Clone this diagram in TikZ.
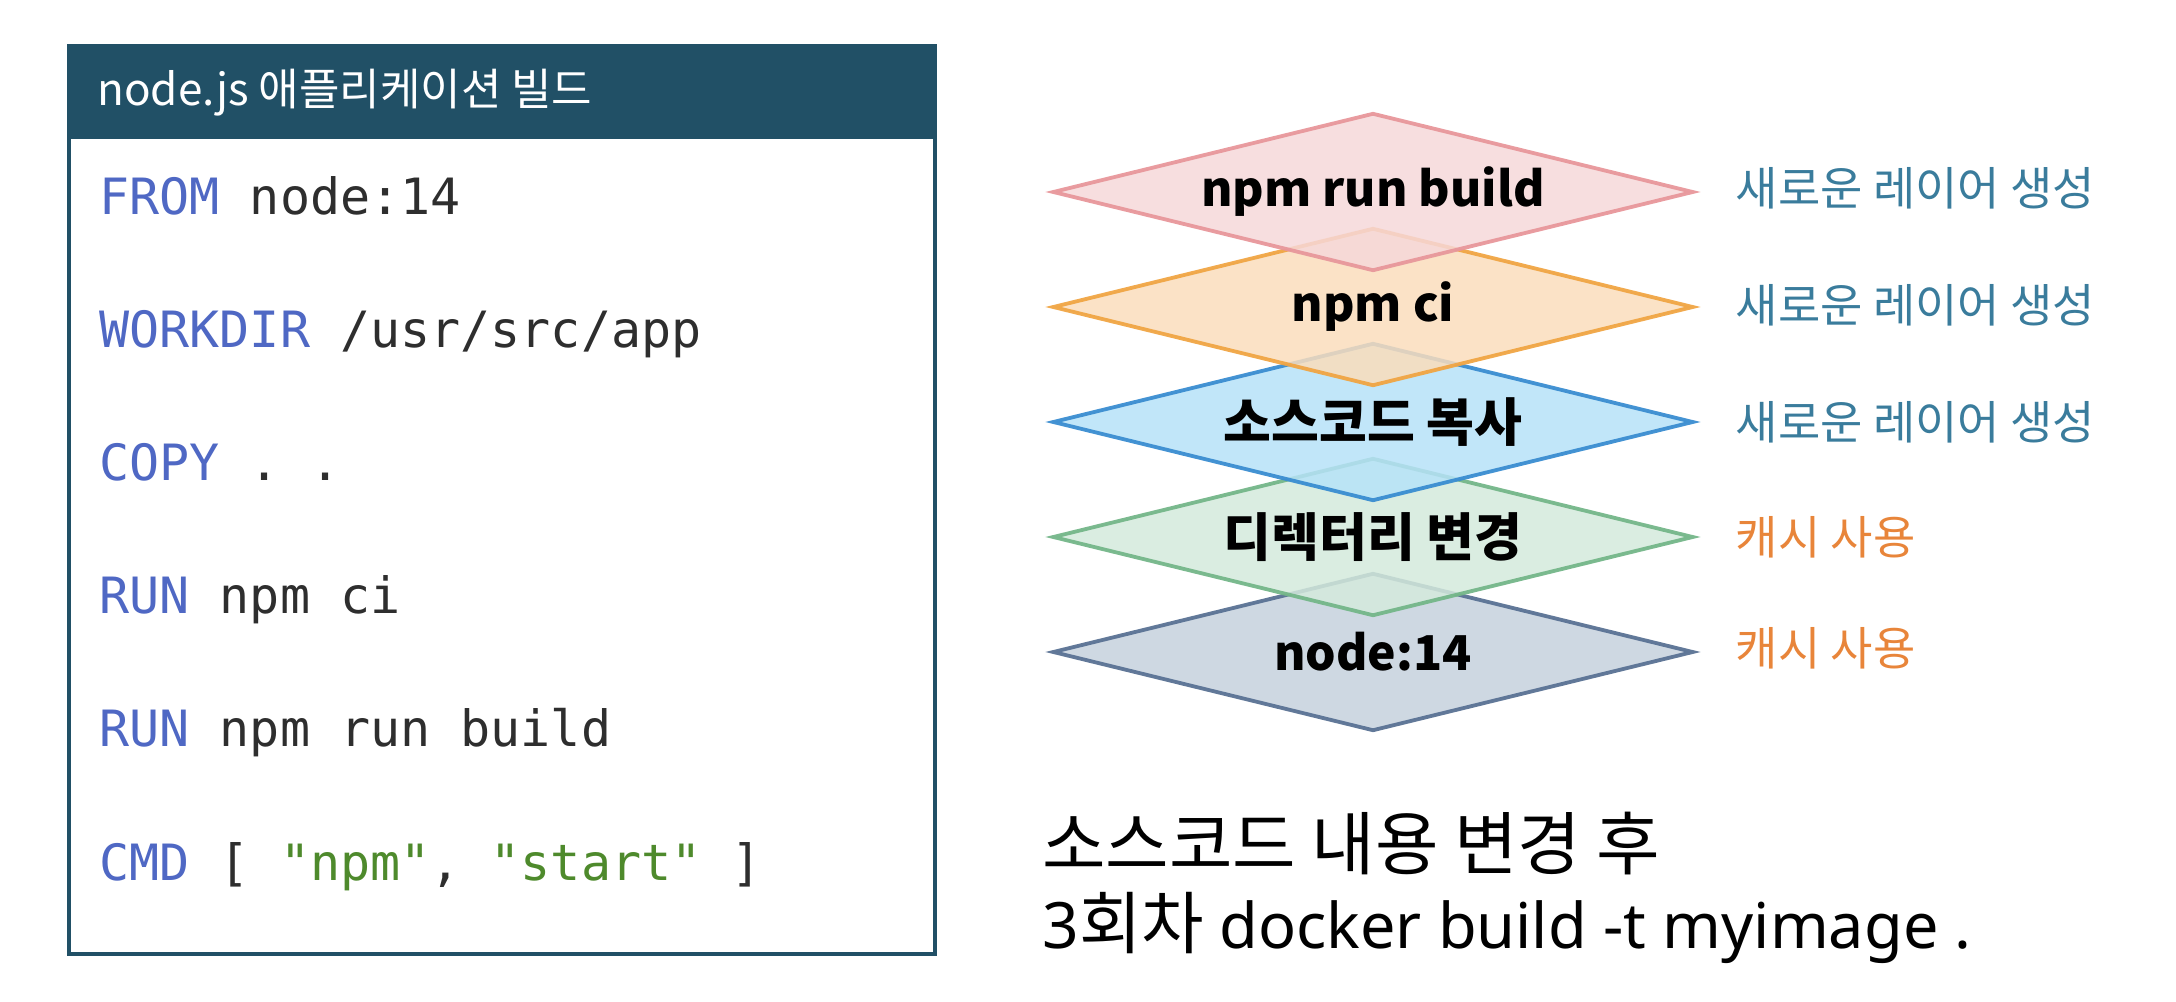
\documentclass[tikz,border=0pt]{standalone}
\usepackage{fontspec}
\setmainfont{Noto Sans CJK KR}
\newfontfamily\codefont{DejaVu Sans Mono}
\newfontfamily\latfont{Noto Sans}
\usetikzlibrary{shapes.geometric}
\definecolor{hdr}{HTML}{215066}
\definecolor{kw}{HTML}{4F68C4}
\definecolor{codetxt}{HTML}{2E2E2E}
\definecolor{strg}{HTML}{4E8A2C}
\definecolor{newc}{HTML}{3A7C9C}
\definecolor{cachec}{HTML}{E8853A}
\definecolor{pinkf}{HTML}{F6D8D9}\definecolor{pinkd}{HTML}{E8979B}
\definecolor{orf}{HTML}{FADDBC}\definecolor{ord}{HTML}{F0A544}
\definecolor{bluef}{HTML}{B6E2F8}\definecolor{blued}{HTML}{3A8DD1}
\definecolor{greenf}{HTML}{D4EADC}\definecolor{greend}{HTML}{74B689}
\definecolor{grayf}{HTML}{C5D1DD}\definecolor{grayd}{HTML}{5A7294}
\tikzset{
  layer/.style={diamond, minimum width=320.5pt, minimum height=79pt, inner sep=0pt,
    line width=1.9pt, fill opacity=0.85, draw opacity=0.95},
  layertxt/.style={inner sep=0pt, font=\fontsize{24}{28}\selectfont\bfseries, text=black},
  layerkr/.style={inner sep=0pt, font=\fontsize{26}{30}\selectfont\bfseries, text=black},
  codeline/.style={anchor=base west, inner sep=0pt, font=\codefont\fontsize{25}{30}\selectfont, text=codetxt},
  sidelabel/.style={anchor=west, inner sep=0pt, font=\fontsize{23}{27}\selectfont},
  bottomtxt/.style={anchor=base west, inner sep=0pt, text=black}
}
\begin{document}
\begin{tikzpicture}[x=0.5pt,y=-0.5pt]
\useasboundingbox (0,0) rectangle (2176,1002);
% code box
\node[draw=hdr, line width=2pt, fill=white, anchor=north west, minimum width=433pt, minimum height=454pt, inner sep=0pt] (codebox) at (67,44) {};
\node[fill=hdr, draw=hdr, line width=2pt, anchor=north west, minimum width=433pt, minimum height=45.5pt, inner sep=0pt] (header) at (67,44) {};
\node[anchor=base west, inner sep=0pt, text=white, font=\fontsize{22}{26}\selectfont] (htitle) at (97,105) {node.js 애플리케이션 빌드};
\node[codeline] (l1) at (99,214) {\textcolor{kw}{FROM} node:14};
\node[codeline] (l2) at (99,347.2) {\textcolor{kw}{WORKDIR} /usr/src/app};
\node[codeline] (l3) at (99,480.4) {\textcolor{kw}{COPY} . .};
\node[codeline] (l4) at (99,613.6) {\textcolor{kw}{RUN} npm ci};
\node[codeline] (l5) at (99,746.8) {\textcolor{kw}{RUN} npm run build};
\node[codeline] (l6) at (99,880) {\textcolor{kw}{CMD} [ \textcolor{strg}{"npm"}, \textcolor{strg}{"start"} ]};
% layers, bottom first
\node[layer, fill=grayf, draw=grayd] (base) at (1373,652) {};
\node[layertxt] (tbase) at (base.center) {node:14};
\node[layer, fill=greenf, draw=greend] (dir) at (1373,537) {};
\node[layerkr] (tdir) at (dir.center) {디렉터리 변경};
\node[layer, fill=bluef, draw=blued] (src) at (1373,422) {};
\node[layerkr] (tsrc) at (src.center) {소스코드 복사};
\node[layer, fill=orf, draw=ord] (ci) at (1373,307) {};
\node[layertxt] (tci) at (ci.center) {npm ci};
\node[layer, fill=pinkf, draw=pinkd] (build) at (1373,192) {};
\node[layertxt] (tbuild) at (build.center) {npm run build};
% side labels
\node[sidelabel, text=newc] (sb) at ([xshift=20pt,yshift=2pt]build.east) {새로운 레이어 생성};
\node[sidelabel, text=newc] (sc) at ([xshift=20pt,yshift=1pt]ci.east) {새로운 레이어 생성};
\node[sidelabel, text=newc] (ss) at ([xshift=20pt]src.east) {새로운 레이어 생성};
\node[sidelabel, text=cachec] (sd) at ([xshift=20pt]dir.east) {캐시 사용};
\node[sidelabel, text=cachec] (sn) at ([xshift=20pt,yshift=2pt]base.east) {캐시 사용};
% bottom text
\node[bottomtxt, font=\fontsize{34.5}{40}\selectfont] (b1) at (1042,869) {소스코드 내용 변경 후};
\node[bottomtxt, font=\fontsize{34}{40}\selectfont] (b2) at (1042,948) {{\latfont\fontsize{32}{38}\selectfont 3}회차 {\latfont\fontsize{31.5}{38}\selectfont docker build -t myimage .}};
\end{tikzpicture}
\end{document}
